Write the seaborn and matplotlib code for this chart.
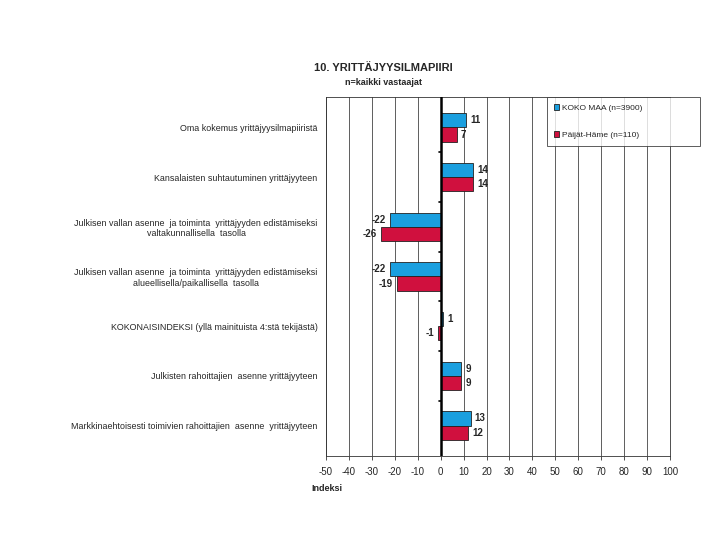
import numpy as np
import pandas as pd
import matplotlib
matplotlib.use("Agg")
import matplotlib.pyplot as plt
import seaborn as sns

categories = [
    "Oma kokemus yrittäjyysilmapiiristä",
    "Kansalaisten suhtautuminen yrittäjyyteen",
    "Julkisen vallan asenne  ja toiminta  yrittäjyyden edistämiseksi\nvaltakunnallisella  tasolla",
    "Julkisen vallan asenne  ja toiminta  yrittäjyyden edistämiseksi\nalueellisella/paikallisella  tasolla",
    "KOKONAISINDEKSI (yllä mainituista 4:stä tekijästä)",
    "Julkisten rahoittajien  asenne yrittäjyyteen",
    "Markkinaehtoisesti toimivien rahoittajien  asenne  yrittäjyyteen",
]
series = ["KOKO MAA (n=3900)", "Päijät-Häme (n=110)"]
koko_maa = [11, 14, -22, -22, 1, 9, 13]
paijat_hame = [7, 14, -26, -19, -1, 9, 12]
x_ticks = list(range(-50, 101, 10))

colors = ["#1a9fdf", "#d0103e"]

df = pd.DataFrame({
    "kategoria": categories * 2,
    "sarja": [series[0]] * len(categories) + [series[1]] * len(categories),
    "arvo": koko_maa + paijat_hame,
})

sns.set_style("white")
plt.rcParams["font.family"] = ["Liberation Sans", "DejaVu Sans"]

fig = plt.figure(figsize=(7.2, 5.4), dpi=100)
ax = fig.add_axes([0.4528, 0.1556, 0.4778, 0.6648])

sns.barplot(data=df, x="arvo", y="kategoria", hue="sarja", orient="h",
            palette=colors, saturation=1, width=0.57, edgecolor="#222222",
            linewidth=0.6, ax=ax, legend=True)

for cont in ax.containers:
    ax.bar_label(cont, fmt="%d", padding=3, fontsize=7, fontweight="bold")

ax.set_xlim(-50, 100)
ax.set_xticks(x_ticks)
ax.set_xticklabels([str(t) for t in x_ticks], fontsize=7)
ax.tick_params(axis="x", length=3, width=0.6, color="#333333", bottom=True, pad=5)
ax.tick_params(axis="y", length=0, labelsize=6.4, pad=6)
for lbl in ax.get_yticklabels():
    lbl.set_multialignment("center")
ax.set_ylabel("")
ax.set_xlabel("")
for t in x_ticks:
    ax.axvline(t, color="#444444", lw=0.6, zorder=0)
ax.axvline(0, color="black", lw=1.8, zorder=3)
# small tick marks on the zero line between categories
for i in range(len(categories) - 1):
    ax.plot([-0.9, 0], [i + 0.5, i + 0.5], color="black", lw=1.2, zorder=3)

for s in ax.spines.values():
    s.set_color("#333333")
    s.set_linewidth(0.6)

leg = ax.legend(loc="upper left", bbox_to_anchor=(0.642, 0.872, 0.445, 0.128),
                mode="expand", fontsize=6, frameon=True, fancybox=False,
                edgecolor="#333333", handlelength=0.6, handleheight=0.6,
                labelspacing=2.3, borderpad=0.9, handletextpad=0.3,
                borderaxespad=0)
leg.get_frame().set_linewidth(0.7)
leg.set_clip_on(False)

fig.text(0.533, 0.868, "10. YRITTÄJYYSILMAPIIRI", ha="center", fontsize=8,
         fontweight="bold")
fig.text(0.533, 0.843, "n=kaikki vastaajat", ha="center", fontsize=6.5,
         fontweight="bold")
fig.text(0.433, 0.09, "Indeksi", ha="left", fontsize=6.5, fontweight="bold")

fig.savefig("out.png", dpi=100)
